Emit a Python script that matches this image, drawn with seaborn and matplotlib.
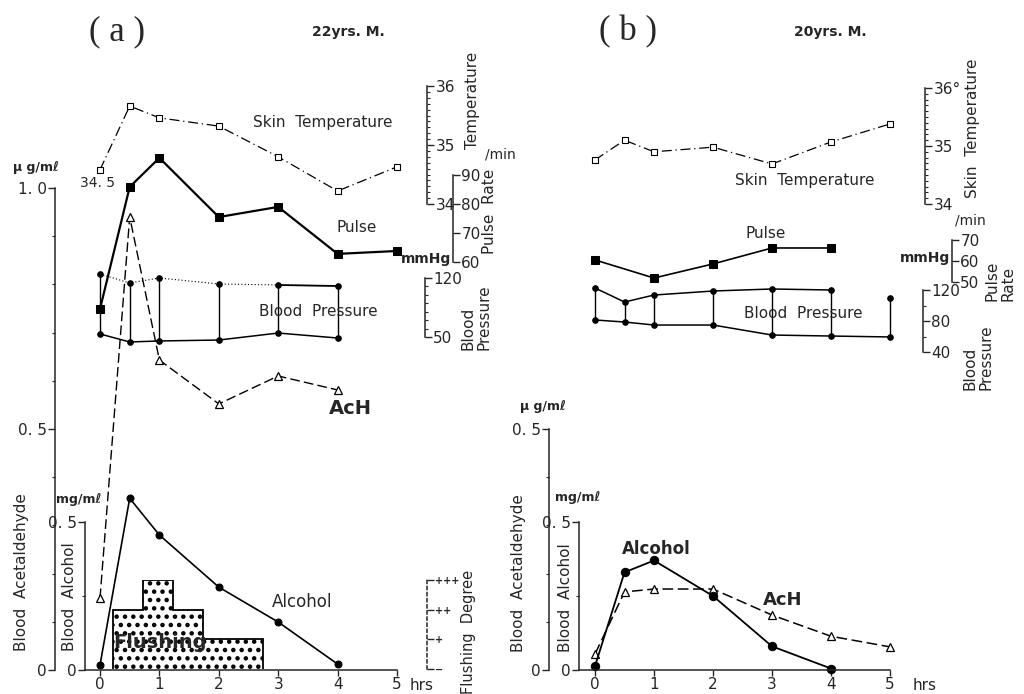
import matplotlib
matplotlib.use("Agg")
import matplotlib.pyplot as plt
from matplotlib.ticker import FixedLocator, MultipleLocator
import seaborn as sns

# ---- values ----
# panel (a), 22yrs. M.
a_time = [0, 0.5, 1, 2, 3, 4]
a_ach = [0.149, 0.94, 0.643, 0.552, 0.61, 0.581]          # ug/ml
a_alcohol = [0.017, 0.58, 0.456, 0.28, 0.162, 0.02]       # mg/ml
a_long_time = [0, 0.5, 1, 2, 3, 4, 5]
a_skin = [34.58, 35.66, 35.46, 35.32, 34.8, 34.22, 34.63]  # deg C
a_pulse = [43.8, 85.9, 95.9, 75.5, 79.0, 62.8, 63.8]       # /min
a_bp_sys = [124.7, 114.1, 120.0, 112.9, 111.7, 110.5]      # mmHg
a_bp_dia = [53.6, 44.1, 45.3, 46.4, 54.7, 48.8]
flush_edges = [0.22, 0.72, 1.23, 1.73, 2.74]
flush_degree = [2, 3, 2, 1]
flush_labels = ["\u2212", "+", "++", "+++"]

# panel (b), 20yrs. M.
b_time = [0, 0.5, 1, 2, 3, 4]
b_long_time = [0, 0.5, 1, 2, 3, 4, 5]
b_ach = [0.033, 0.162, 0.168, 0.168, 0.114, 0.07, 0.048]
b_alcohol = [0.013, 0.33, 0.37, 0.25, 0.08, 0.005]
b_skin = [34.76, 35.1, 34.9, 34.98, 34.69, 35.07, 35.38]
b_pulse_time = [0, 1, 2, 3, 4]
b_pulse = [60.5, 51.9, 58.6, 66.2, 66.2]
b_bp_sys = [122.6, 104.5, 113.5, 118.7, 121.3, 120.0, 109.7]
b_bp_dia = [81.3, 78.7, 74.8, 74.8, 61.9, 60.6, 59.4]

hours = [0, 1, 2, 3, 4, 5]

sns.set_style("white")
plt.rcParams["font.family"] = ["DejaVu Sans"]
plt.rcParams["hatch.linewidth"] = 2.0

W, H = 1024, 694
fig = plt.figure(figsize=(W / 100, H / 100), dpi=100)


def layer(x0, x1, tlim, ybot, ytop, vlim):
    # transparent axes whose box maps tlim / vlim onto the given pixel box
    ax = fig.add_axes([x0 / W, 1 - ybot / H, (x1 - x0) / W, (ybot - ytop) / H])
    ax.patch.set_visible(False)
    return ax, (x0, x1, tlim, vlim)


def finish(ax, geo, side=None, xpx=None, major=None, labels=None, minor=None,
           size=11, xaxis=False, ls="-"):
    x0, x1, tlim, vlim = geo
    ax.set_xlim(*tlim)
    ax.set_ylim(*vlim)
    ax.set_xlabel("")
    ax.set_ylabel("")
    for s in ax.spines.values():
        s.set_visible(False)
    ax.tick_params(left=False, right=False, labelleft=False, labelright=False,
                   bottom=False, labelbottom=False, which="both")
    if side is not None:
        sp = ax.spines[side]
        sp.set_visible(True)
        sp.set_linewidth(1.1)
        sp.set_linestyle(ls)
        sp.set_position(("axes", (xpx - x0) / (x1 - x0)))
        ax.yaxis.set_major_locator(FixedLocator(major))
        ax.set_yticklabels(labels)
        if minor:
            ax.yaxis.set_minor_locator(MultipleLocator(minor))
        on = {side: True, "label" + side: True}
        ax.tick_params(axis="y", which="major", direction="out", length=5,
                       width=1, labelsize=size, pad=1, **on)
        ax.tick_params(axis="y", which="minor", direction="out", length=2.5,
                       width=0.8, **{side: True})
    if xaxis:
        ax.spines["bottom"].set_visible(True)
        ax.spines["bottom"].set_linewidth(1.1)
        ax.set_xticks(hours)
        ax.set_xticklabels([str(h) for h in hours])
        ax.tick_params(axis="x", which="major", direction="out", length=4,
                       width=1, labelsize=11, pad=1, bottom=True, labelbottom=True)


def ftext(x, y, s, **kw):
    kw.setdefault("ha", "center")
    kw.setdefault("va", "center")
    fig.text(x / W, 1 - y / H, s, **kw)


line = dict(color="black", clip_on=False)

# ================= panel (a) =================
XA = (85, 397)
TA = (-15 / 59.4, 5)

ax, g = layer(*XA, TA, 670, 188, (0, 1.0))
sns.lineplot(x=a_time, y=a_ach, ax=ax, lw=1, linestyle=(0, (7, 3)), marker="^",
             ms=6, mfc="white", mec="black", mew=0.9, **line)
finish(ax, g, "left", 55, [0, 0.5, 1.0], ["0", "0. 5", "1. 0"], minor=0.1, size=11)

ax, g = layer(*XA, TA, 670, 522, (0, 0.5))
sns.lineplot(x=a_time, y=a_alcohol, ax=ax, lw=1.2, marker="o", ms=5, mec="black",
             **line)
finish(ax, g, "left", 85, [0, 0.5], ["0", "0. 5"], minor=0.25, size=11, xaxis=True)

ax, g = layer(*XA, TA, 204, 86, (34, 36))
sns.lineplot(x=a_long_time, y=a_skin, ax=ax, lw=0.9, linestyle=(0, (8, 3, 1, 3)),
             marker="s", ms=4.5, mfc="white", mec="black", mew=0.8, **line)
finish(ax, g, "right", 427, [34, 35, 36], ["34", "35", "36"], minor=0.1)

ax, g = layer(*XA, TA, 262, 175, (60, 90))
sns.lineplot(x=a_long_time, y=a_pulse, ax=ax, lw=1.6, marker="s", ms=5.5,
             mec="black", **line)
finish(ax, g, "right", 453, [60, 70, 80, 90], ["60", "70", "80", "90"])

ax, g = layer(*XA, TA, 337, 278, (50, 120))
ax.vlines(a_time, a_bp_dia, a_bp_sys, colors="black", lw=1, clip_on=False)
sns.lineplot(x=a_time, y=a_bp_sys, ax=ax, lw=0.8, linestyle=(0, (1, 2)), marker="o",
             ms=4, mec="black", **line)
sns.lineplot(x=a_time[4:], y=a_bp_sys[4:], ax=ax, lw=1.3, **line)
sns.lineplot(x=a_time, y=a_bp_dia, ax=ax, lw=1.1, marker="o", ms=4, mec="black",
             **line)
finish(ax, g, "right", 425, [50, 120], ["50", "120"], minor=10)

ax, g = layer(*XA, TA, 669, 580, (0, 3))
ax.stairs(flush_degree, flush_edges, fill=True, facecolor="white",
          edgecolor="black", hatch="..", lw=1.3)
finish(ax, g, "right", 427, [0, 1, 2, 3], flush_labels, size=7, ls=(0, (2, 2)))
for t in ax.get_yticklabels():
    t.set_fontweight("bold")

ftext(117, 32, "( a )", fontsize=25, family="Liberation Serif")
ftext(348, 32, "22yrs. M.", fontsize=10, fontweight="bold")
ftext(323, 123, "Skin  Temperature", fontsize=11)
ftext(357, 228, "Pulse", fontsize=11)
ftext(318, 312, "Blood  Pressure", fontsize=11)
ftext(350, 409, "AcH", fontsize=14, fontweight="bold")
ftext(302, 602, "Alcohol", fontsize=12)
ftext(98, 183, "34. 5", fontsize=10)
ftext(36, 167, "\u03bc g/m\u2113", fontsize=9, fontweight="bold")
ftext(79, 499, "mg/m\u2113", fontsize=9, fontweight="bold")
ftext(22, 572, "Blood  Acetaldehyde", fontsize=11, rotation=90)
ftext(70, 597, "Blood  Alcohol", fontsize=11, rotation=90)
ftext(422, 686, "hrs", fontsize=11)
ftext(472, 100, "Temperature", fontsize=11, rotation=90)
ftext(490, 211, "Pulse  Rate", fontsize=11, rotation=90)
ftext(500, 155, "/min", fontsize=10)
ftext(426, 259, "mmHg", fontsize=10, fontweight="bold")
ftext(476, 350, "Blood\nPressure", fontsize=11, rotation=90, va="bottom",
      multialignment="left", linespacing=1.0)
ftext(468, 632, "Flushing  Degree", fontsize=10.5, rotation=90)
ftext(160, 642, "Flushing", fontsize=14, fontweight="bold")

# ================= panel (b) =================
XB = (579, 890)
TB = (-16 / 59.0, 5)

ax, g = layer(*XB, TB, 670, 429, (0, 0.5))
sns.lineplot(x=b_long_time, y=b_ach, ax=ax, lw=1.1, linestyle=(0, (7, 3)), marker="^",
             ms=6, mfc="white", mec="black", mew=0.9, **line)
finish(ax, g, "left", 549, [0, 0.5], ["0", "0. 5"], minor=0.1, size=11)

ax, g = layer(*XB, TB, 670, 522, (0, 0.5))
sns.lineplot(x=b_time, y=b_alcohol, ax=ax, lw=1.3, marker="o", ms=6, mec="black",
             **line)
finish(ax, g, "left", 579, [0, 0.5], ["0", "0. 5"], minor=0.25, size=11, xaxis=True)

ax, g = layer(*XB, TB, 204, 88, (34, 36))
sns.lineplot(x=b_long_time, y=b_skin, ax=ax, lw=0.9, linestyle=(0, (8, 3, 1, 3)),
             marker="s", ms=4.5, mfc="white", mec="black", mew=0.8, **line)
finish(ax, g, "right", 925, [34, 35, 36], ["34", "35", "36\u00b0"], minor=0.1)

ax, g = layer(*XB, TB, 282, 240, (50, 70))
sns.lineplot(x=b_pulse_time, y=b_pulse, ax=ax, lw=1.2, marker="s", ms=5.5,
             mec="black", **line)
finish(ax, g, "right", 952, [50, 60, 70], ["50", "60", "70"])

ax, g = layer(*XB, TB, 352, 290, (40, 120))
ax.vlines(b_long_time, b_bp_dia, b_bp_sys, colors="black", lw=1, clip_on=False)
sns.lineplot(x=b_long_time[:6], y=b_bp_sys[:6], ax=ax, lw=1.1, marker="o", ms=4,
             mec="black", **line)
sns.lineplot(x=b_long_time[-1:], y=b_bp_sys[-1:], ax=ax, marker="o", ms=4,
             mec="black", **line)
sns.lineplot(x=b_long_time, y=b_bp_dia, ax=ax, lw=1.1, marker="o", ms=4,
             mec="black", **line)
finish(ax, g, "right", 923, [40, 80, 120], ["40", "80", "120"], minor=20)

ftext(628, 32, "( b )", fontsize=25, family="Liberation Serif")
ftext(830, 32, "20yrs. M.", fontsize=10, fontweight="bold")
ftext(805, 181, "Skin  Temperature", fontsize=11)
ftext(766, 233, "Pulse", fontsize=11)
ftext(803, 313, "Blood  Pressure", fontsize=11)
ftext(656, 549, "Alcohol", fontsize=12, fontweight="bold")
ftext(783, 600, "AcH", fontsize=13, fontweight="bold")
ftext(543, 406, "\u03bc g/m\u2113", fontsize=9, fontweight="bold")
ftext(578, 498, "mg/m\u2113", fontsize=9, fontweight="bold")
ftext(518, 573, "Blood  Acetaldehyde", fontsize=11, rotation=90)
ftext(565, 598, "Blood  Alcohol", fontsize=11, rotation=90)
ftext(925, 686, "hrs", fontsize=11)
ftext(973, 128, "Skin  Temperature", fontsize=11, rotation=90)
ftext(970, 221, "/min", fontsize=10)
ftext(925, 258, "mmHg", fontsize=10, fontweight="bold")
ftext(1000, 301, "Pulse\nRate", fontsize=11, rotation=90, va="bottom",
      multialignment="left", linespacing=1.0)
ftext(978, 390, "Blood\nPressure", fontsize=11, rotation=90, va="bottom",
      multialignment="left", linespacing=1.0)

fig.savefig("out.png", dpi=100, facecolor="white")
